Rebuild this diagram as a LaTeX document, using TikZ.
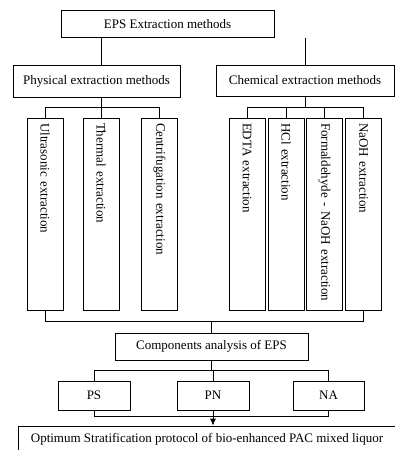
\documentclass[tikz,border=0pt]{standalone}
\usepackage{fontspec}
\setmainfont{Liberation Serif}
\usetikzlibrary{arrows.meta}
\tikzset{
box/.style={
	  draw, line width=0.8pt, inner sep=2pt,
	    font=\fontsize{13}{15}\selectfont},
tallbox/.style={
	  box, rotate=-90, minimum width=192pt, minimum height=36pt,
	    text width=182pt, align=left},
link/.style={line width=0.8pt}
}

\begin{document}
\begin{tikzpicture}[x=1pt, y=-1pt]
	\useasboundingbox (0,0) rectangle (395,450);
	% buses
	\coordinate (bus1) at (0,107);
	\coordinate (bus2) at (0,321);
	\coordinate (bus3) at (0,370);
	\coordinate (bus4) at (0,416);
	\node[box, minimum width=213pt, minimum height=27pt] (eps) at (167.5,24) {EPS Extraction methods};
	\node[box, minimum width=167pt, minimum height=32pt] (phys) at (96.5,81) {Physical extraction methods};
	\node[box, minimum width=178pt, minimum height=31pt] (chem) at (305,80.5) {Chemical extraction methods};
	% physical methods
	\node[tallbox] (ultra) at (45,214) {Ultrasonic extraction};
	\node[tallbox] (thermal) at (101,214) {Thermal extraction};
	\node[tallbox] (centri) at (159.5,214) {Centrifugation extraction};
	% chemical methods
	\node[tallbox] (edta) at (247,214) {EDTA extraction};
	\node[tallbox] (hcl) at (286,214) {HCl extraction};
	\node[tallbox] (form) at (324.5,214) {Formaldehyde - NaOH extraction};
	\node[tallbox] (naoh) at (363.5,214) {NaOH extraction};
	\node[box, minimum width=193pt, minimum height=27pt] (comp) at (211.5,346.5) {Components analysis of EPS};
	\node[box, minimum width=72pt, minimum height=29pt] (ps) at (94,395.5) {PS};
	\node[box, minimum width=72pt, minimum height=29pt] (pn) at (213,395.5) {PN};
	\node[box, minimum width=71pt, minimum height=29pt] (na) at (328.5,395.5) {NA};
	\node[box, minimum width=378pt, minimum height=26pt] (final) at (207,439) {Optimum Stratification protocol of bio-enhanced PAC mixed liquor};

	\draw[link] (eps.south -| thermal.west) -- (phys.north -| thermal.west);
	\draw[link] (eps.south -| chem.north) -- (chem.north);
	\draw[link] (thermal.west) -- (thermal.west |- phys.south);
	\draw[link] (ultra.west) -- (ultra.west |- bus1) -| (centri.west);
	\draw[link] (chem.south) -- (chem.south |- bus1);
	\draw[link] (edta.west) -- (edta.west |- bus1) -| (naoh.west);
	\draw[link] (hcl.west) -- (hcl.west |- bus1);
	\draw[link] (form.west) -- (form.west |- bus1);
	\draw[link] (ultra.east) -- (ultra.east |- bus2) -| (naoh.east);
	\draw[link] (bus2 -| comp.north) -- (comp.north);
	\draw[link] (comp.south) -- (comp.south |- bus3);
	\draw[link] (ps.north) -- (ps.north |- bus3) -| (na.north);
	\draw[link] (pn.north) -- (pn.north |- bus3);
	\draw[link] (ps.south) -- (ps.south |- bus4) -| (na.south);
	\draw[link, -{Latex[length=7pt,width=6pt]}] (pn.south) -- (final.north -| pn.south);

\end{tikzpicture}
\end{document}
